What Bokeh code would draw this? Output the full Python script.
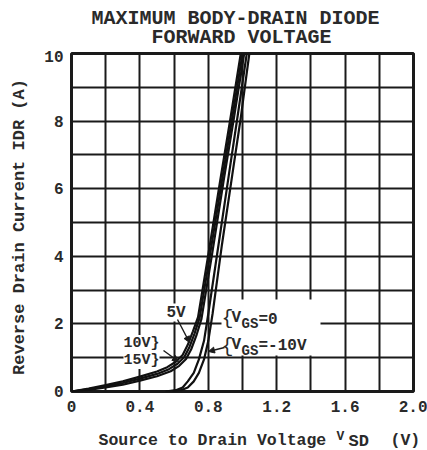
from math import pi
from bokeh.plotting import figure
from bokeh.layouts import column, row
from bokeh.models import Range1d, FixedTicker, Label, Arrow, NormalHead, BoxAnnotation
from bokeh.embed import file_html
from bokeh.resources import INLINE

# ---------------- data ----------------
v_15v = [0, 0.1, 0.2, 0.3, 0.4, 0.5, 0.56, 0.61, 0.65, 0.68, 0.71, 0.74, 0.80, 0.87, 0.93, 0.99]
i_15v = [0, 0.09, 0.19, 0.30, 0.44, 0.59, 0.72, 0.88, 1.08, 1.38, 1.78, 2.2, 4.05, 6.25, 8.1, 10]

v_10v = [0, 0.1, 0.2, 0.3, 0.4, 0.5, 0.57, 0.62, 0.66, 0.69, 0.72, 0.75, 0.81, 0.88, 0.94, 1.0]
i_10v = [0, 0.07, 0.15, 0.25, 0.38, 0.52, 0.66, 0.82, 1.02, 1.32, 1.72, 2.2, 4.05, 6.25, 8.1, 10]

v_5v = [0, 0.1, 0.2, 0.3, 0.4, 0.5, 0.58, 0.63, 0.67, 0.70, 0.73, 0.76, 0.82, 0.89, 0.95, 1.01]
i_5v = [0, 0.05, 0.12, 0.20, 0.32, 0.45, 0.60, 0.76, 0.96, 1.25, 1.65, 2.15, 4.0, 6.25, 8.1, 10]

v_0v = [0.55, 0.61, 0.65, 0.68, 0.715, 0.745, 0.775, 0.80, 0.86, 0.92, 0.97, 1.025]
i_0v = [0, 0.04, 0.12, 0.30, 0.55, 0.95, 1.5, 2.3, 4.35, 6.4, 8.1, 10]

v_m10v = [0.59, 0.64, 0.68, 0.715, 0.745, 0.775, 0.80, 0.825, 0.88, 0.94, 0.99, 1.04]
i_m10v = [0, 0.04, 0.12, 0.30, 0.55, 0.95, 1.5, 2.3, 4.35, 6.4, 8.1, 10]

x_ticks = [0, 0.4, 0.8, 1.2, 1.6, 2]
x_tick_labels = ["0", "0.4", "0.8", "1.2", "1.6", "2.0"]
y_ticks = [0, 2, 4, 6, 8, 10]
y_tick_labels = ["0", "2", "4", "6", "8", "10"]
x_grid = [0.2, 0.4, 0.6, 0.8, 1.0, 1.2, 1.4, 1.6, 1.8]
y_grid = [1, 2, 3, 4, 5, 6, 7, 8, 9]

title_lines = ["MAXIMUM BODY-DRAIN DIODE", "FORWARD VOLTAGE"]
y_label = "Reverse Drain Current IDR (A)"

# ---------------- layout (page pixels) ----------------
W, H = 427, 450
L, R, T, B = 71, 413, 53, 391      # plot frame edges
TOP_H = 50                         # title strip
LEFT_W = 36                        # y-label strip
BOT_Y = 424                        # x-label strip starts here
X0, X1, Y0, Y1 = 0.0, 2.0, 0.0, 10.0

FONT = "Liberation Mono"
INK = "#1a1a1a"
TXT = "#2a2a2a"


def dx(px):
    return X0 + (px - L) / (R - L) * (X1 - X0)


def dy(py):
    return Y0 + (B - py) / (B - T) * (Y1 - Y0)


def strip(w, h):
    f = figure(width=w, height=h, output_backend="svg", toolbar_location=None,
               x_range=Range1d(0, w), y_range=Range1d(0, h),
               x_axis_location=None, y_axis_location=None, min_border=0, title=None)
    f.outline_line_color = None
    f.grid.visible = False
    f.background_fill_color = "white"
    f.border_fill_color = "white"
    return f


def add_text(fig, x, y, text, size, align="left", baseline="middle", angle=0,
             bold=True, bg=None):
    fig.add_layout(Label(x=x, y=y, text=text, text_font=FONT,
                         text_font_size=f"{size}px", text_color=TXT,
                         text_font_style="bold" if bold else "normal",
                         text_align=align, text_baseline=baseline, angle=angle,
                         background_fill_color=bg))


# ---- title strip ----
top = strip(W, TOP_H)
add_text(top, 235, TOP_H - 18, title_lines[0], 20, align="center")
add_text(top, 241, TOP_H - 37, title_lines[1], 20, align="center")

# ---- y-label strip ----
left_h = BOT_Y - TOP_H
left = strip(LEFT_W, left_h)
add_text(left, 19, BOT_Y - 242, y_label, 17, align="center", angle=pi / 2)

# ---- main plot ----
p = figure(width=W - LEFT_W, height=BOT_Y - TOP_H, output_backend="svg",
           toolbar_location=None, title=None,
           x_range=Range1d(X0, X1), y_range=Range1d(Y0, Y1),
           min_border_left=L - LEFT_W, min_border_right=W - R,
           min_border_top=T - TOP_H, min_border_bottom=BOT_Y - B)
p.background_fill_color = "white"
p.border_fill_color = "white"
p.outline_line_color = INK
p.outline_line_width = 3

for ax in (p.xaxis[0], p.yaxis[0]):
    ax.axis_line_color = None
    ax.major_tick_line_color = None
    ax.minor_tick_line_color = None
    ax.major_tick_out = 0
    ax.major_tick_in = 0
    ax.minor_tick_out = 0
    ax.minor_tick_in = 0
    ax.major_label_text_font = FONT
    ax.major_label_text_font_size = "16px"
    ax.major_label_text_font_style = "bold"
    ax.major_label_text_color = TXT
p.xaxis.ticker = FixedTicker(ticks=x_ticks)
p.xaxis.major_label_overrides = dict(zip(x_ticks, x_tick_labels))
p.xaxis.major_label_standoff = 9
p.yaxis.ticker = FixedTicker(ticks=y_ticks)
p.yaxis.major_label_overrides = dict(zip(y_ticks, y_tick_labels))
p.yaxis.major_label_standoff = 8

p.xgrid.ticker = FixedTicker(ticks=x_grid)
p.ygrid.ticker = FixedTicker(ticks=y_grid)
for g in (p.xgrid[0], p.ygrid[0]):
    g.grid_line_color = INK
    g.grid_line_width = 2

for vv, ii in ((v_15v, i_15v), (v_10v, i_10v), (v_5v, i_5v), (v_0v, i_0v), (v_m10v, i_m10v)):
    p.line(vv, ii, line_color="#111111", line_width=2.2)

# white area behind the V_GS annotation
p.add_layout(BoxAnnotation(left=dx(221), right=dx(320), top=dy(299), bottom=dy(355),
                           fill_color="white", fill_alpha=1, line_color=None))


def lab(px, py, text, size, **kw):
    add_text(p, dx(px), dy(py), text, size, **kw)


def arrow(x0, y0, x1, y1):
    p.add_layout(Arrow(x_start=dx(x0), y_start=dy(y0), x_end=dx(x1), y_end=dy(y1),
                       line_color=INK, line_width=1.4,
                       end=NormalHead(size=6, fill_color=INK, line_color=INK)))


lab(166, 312, "5V", 16, bg="white")
arrow(177, 319, 189, 342)
lab(123, 343, "10V}", 15, bg="white")
lab(123, 360, "15V}", 15, bg="white")
arrow(163, 350, 178, 361)

lab(221, 318, "{", 20, bold=False)
lab(221, 346, "{", 20, bold=False)
lab(231, 317, "V", 16)
lab(241, 323, "GS", 14)
lab(258, 319, "=0", 16)
lab(231, 344, "V", 16)
lab(241, 350, "GS", 14)
lab(258, 345, "=-10V", 16)
arrow(224, 347, 208, 351)

# ---- x-label strip ----
bot_h = H - BOT_Y
bot = strip(W, bot_h)


def by(py):
    return H - py


add_text(bot, 98, by(440), "Source to Drain Voltage", 16.5)
add_text(bot, 336, by(436), "V", 13)
add_text(bot, 348, by(441), "SD", 17)
add_text(bot, 390, by(440), "(V)", 16.5)

layout = column(top, row(left, p), bot)
open("out.html", "w").write(file_html(layout, INLINE))
